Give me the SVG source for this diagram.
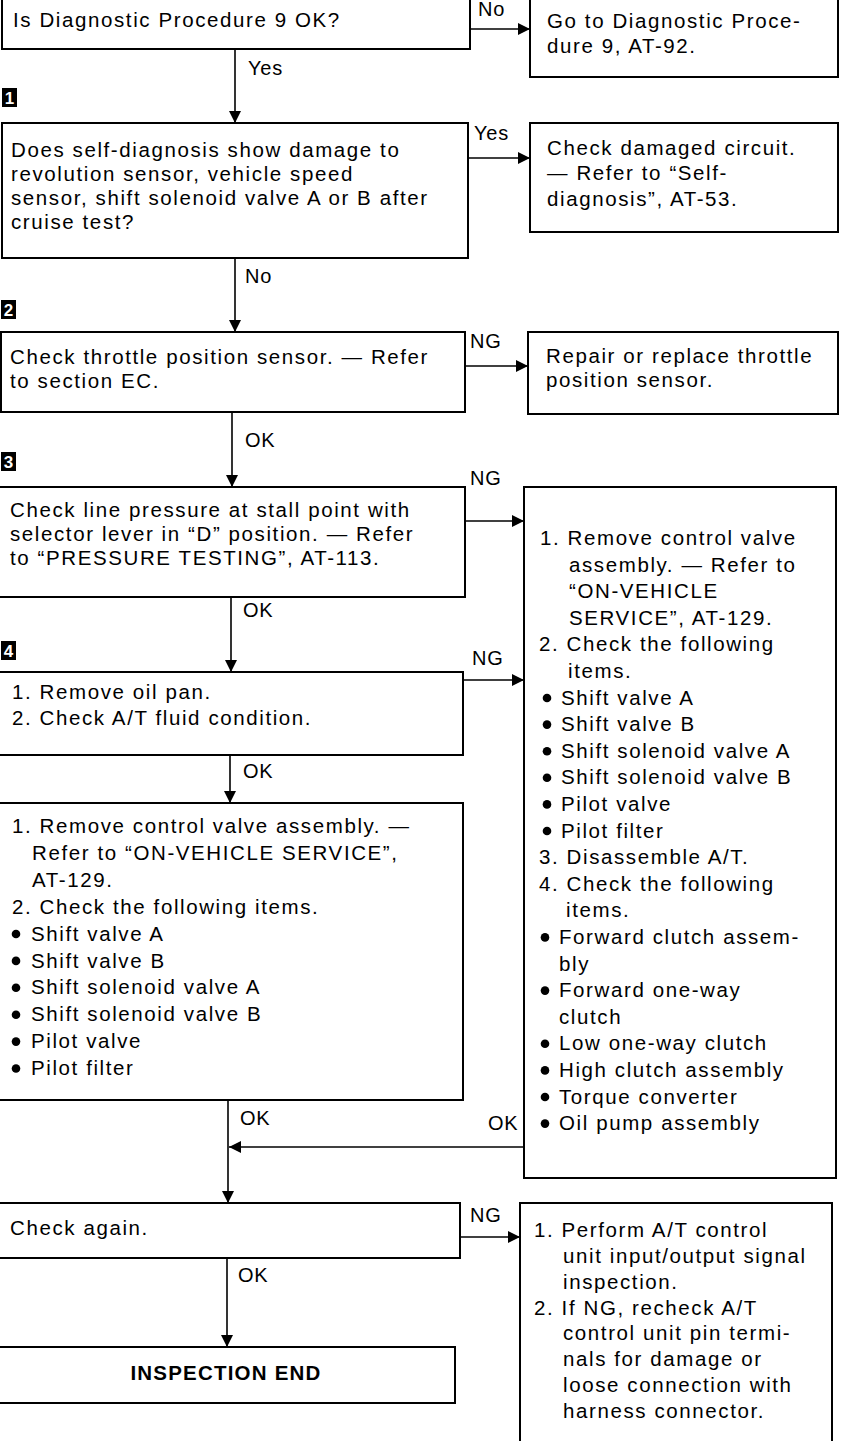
<svg xmlns="http://www.w3.org/2000/svg" width="841" height="1441" viewBox="0 0 841 1441">
<style>
.bg{fill:#fff}
.box{fill:none;stroke:#000;stroke-width:2}
.c{fill:none;stroke:#000;stroke-width:1.6}
.t{font-family:"Liberation Sans",Arial,sans-serif;font-size:20.5px;letter-spacing:1.6px;fill:#000}
.l{font-family:"Liberation Sans",Arial,sans-serif;font-size:20px;letter-spacing:0.8px;fill:#000}
.b{font-weight:bold;letter-spacing:1.2px}
.mk{fill:#000}
.mt{font-family:"Liberation Sans",Arial,sans-serif;font-size:17px;font-weight:bold;fill:#fff}
.dot{fill:#000}
</style>
<defs>
<marker id="ah" markerUnits="userSpaceOnUse" markerWidth="13" markerHeight="12" refX="12" refY="6" orient="auto">
<path d="M0,0 L12,6 L0,12 z" fill="#000"/>
</marker>
</defs>
<rect class="bg" x="0" y="0" width="841" height="1441"/>

<g id="n-q9">
<rect class="box" x="2" y="-10" width="468" height="59"/>
<text class="t" x="13" y="27">Is Diagnostic Procedure 9 OK?</text>
</g>
<g id="n-goto9">
<rect class="box" x="530" y="-10" width="308" height="87"/>
<text class="t"><tspan x="547" y="28">Go to Diagnostic Proce-</tspan><tspan x="547" y="53">dure 9, AT-92.</tspan></text>
</g>

<g id="m1"><rect class="mk" x="2" y="88" width="15" height="19"/><text class="mt" x="9.5" y="104" text-anchor="middle">1</text></g>

<g id="n-selfdiag">
<rect class="box" x="2" y="123" width="466" height="135"/>
<text class="t"><tspan x="11" y="157">Does self-diagnosis show damage to</tspan><tspan x="11" y="181">revolution sensor, vehicle speed</tspan><tspan x="11" y="205">sensor, shift solenoid valve A or B after</tspan><tspan x="11" y="229">cruise test?</tspan></text>
</g>
<g id="n-damaged">
<rect class="box" x="530" y="123" width="308" height="109"/>
<text class="t"><tspan x="547" y="155">Check damaged circuit.</tspan><tspan x="547" y="180">— Refer to “Self-</tspan><tspan x="547" y="206">diagnosis”, AT-53.</tspan></text>
</g>

<g id="m2"><rect class="mk" x="1" y="300" width="15" height="19"/><text class="mt" x="8.5" y="316" text-anchor="middle">2</text></g>

<g id="n-throttle">
<rect class="box" x="1" y="332" width="464" height="80"/>
<text class="t"><tspan x="10" y="364">Check throttle position sensor. — Refer</tspan><tspan x="10" y="388">to section EC.</tspan></text>
</g>
<g id="n-repair">
<rect class="box" x="528" y="332" width="310" height="82"/>
<text class="t"><tspan x="546" y="363">Repair or replace throttle</tspan><tspan x="546" y="387">position sensor.</tspan></text>
</g>

<g id="m3"><rect class="mk" x="1" y="452" width="15" height="19"/><text class="mt" x="8.5" y="468" text-anchor="middle">3</text></g>

<g id="n-linepressure">
<rect class="box" x="-2" y="487" width="467" height="110"/>
<text class="t"><tspan x="10" y="517">Check line pressure at stall point with</tspan><tspan x="10" y="541">selector lever in “D” position. — Refer</tspan><tspan x="10" y="565">to “PRESSURE TESTING”, AT-113.</tspan></text>
</g>

<g id="n-disassemble">
<rect class="box" x="524" y="487" width="312" height="691"/>
<text class="t">
<tspan x="540" y="545">1. Remove control valve</tspan>
<tspan x="569" y="571.6">assembly. — Refer to</tspan>
<tspan x="569" y="598.2">“ON-VEHICLE</tspan>
<tspan x="569" y="624.8">SERVICE”, AT-129.</tspan>
<tspan x="539" y="651.4">2. Check the following</tspan>
<tspan x="568" y="678">items.</tspan>
<tspan x="561" y="704.6">Shift valve A</tspan>
<tspan x="561" y="731.2">Shift valve B</tspan>
<tspan x="561" y="757.8">Shift solenoid valve A</tspan>
<tspan x="561" y="784.4">Shift solenoid valve B</tspan>
<tspan x="561" y="811">Pilot valve</tspan>
<tspan x="561" y="837.6">Pilot filter</tspan>
<tspan x="539" y="864.2">3. Disassemble A/T.</tspan>
<tspan x="539" y="890.8">4. Check the following</tspan>
<tspan x="566" y="917.4">items.</tspan>
<tspan x="559" y="944">Forward clutch assem-</tspan>
<tspan x="559" y="970.6">bly</tspan>
<tspan x="559" y="997.2">Forward one-way</tspan>
<tspan x="559" y="1023.8">clutch</tspan>
<tspan x="559" y="1050.4">Low one-way clutch</tspan>
<tspan x="559" y="1077">High clutch assembly</tspan>
<tspan x="559" y="1103.6">Torque converter</tspan>
<tspan x="559" y="1130.2">Oil pump assembly</tspan>
</text>
<circle class="dot" cx="547" cy="698" r="4.3"/>
<circle class="dot" cx="547" cy="724.6" r="4.3"/>
<circle class="dot" cx="547" cy="751.2" r="4.3"/>
<circle class="dot" cx="547" cy="777.8" r="4.3"/>
<circle class="dot" cx="547" cy="804.4" r="4.3"/>
<circle class="dot" cx="547" cy="831" r="4.3"/>
<circle class="dot" cx="545" cy="937.4" r="4.3"/>
<circle class="dot" cx="545" cy="990.6" r="4.3"/>
<circle class="dot" cx="545" cy="1043.8" r="4.3"/>
<circle class="dot" cx="545" cy="1070.4" r="4.3"/>
<circle class="dot" cx="545" cy="1097" r="4.3"/>
<circle class="dot" cx="545" cy="1123.6" r="4.3"/>
</g>

<g id="m4"><rect class="mk" x="1" y="641" width="15" height="19"/><text class="mt" x="8.5" y="657" text-anchor="middle">4</text></g>

<g id="n-oilpan">
<rect class="box" x="-2" y="672" width="465" height="83"/>
<text class="t"><tspan x="12" y="699">1. Remove oil pan.</tspan><tspan x="12" y="725">2. Check A/T fluid condition.</tspan></text>
</g>

<g id="n-controlvalve">
<rect class="box" x="-2" y="803" width="465" height="297"/>
<text class="t">
<tspan x="12" y="833">1. Remove control valve assembly. —</tspan>
<tspan x="32" y="859.9">Refer to “ON-VEHICLE SERVICE”,</tspan>
<tspan x="32" y="886.8">AT-129.</tspan>
<tspan x="12" y="913.7">2. Check the following items.</tspan>
<tspan x="31" y="940.6">Shift valve A</tspan>
<tspan x="31" y="967.5">Shift valve B</tspan>
<tspan x="31" y="994.4">Shift solenoid valve A</tspan>
<tspan x="31" y="1021.3">Shift solenoid valve B</tspan>
<tspan x="31" y="1048.2">Pilot valve</tspan>
<tspan x="31" y="1075.1">Pilot filter</tspan>
</text>
<circle class="dot" cx="16" cy="934" r="4.3"/>
<circle class="dot" cx="16" cy="960.9" r="4.3"/>
<circle class="dot" cx="16" cy="987.8" r="4.3"/>
<circle class="dot" cx="16" cy="1014.7" r="4.3"/>
<circle class="dot" cx="16" cy="1041.6" r="4.3"/>
<circle class="dot" cx="16" cy="1068.5" r="4.3"/>
</g>

<g id="n-checkagain">
<rect class="box" x="-2" y="1203" width="462" height="55"/>
<text class="t" x="10" y="1235">Check again.</text>
</g>
<g id="n-perform">
<path class="box" d="M520,1445 V1203 H832 V1445"/>
<text class="t">
<tspan x="534" y="1237">1. Perform A/T control</tspan>
<tspan x="563" y="1263">unit input/output signal</tspan>
<tspan x="563" y="1289">inspection.</tspan>
<tspan x="534" y="1315">2. If NG, recheck A/T</tspan>
<tspan x="563" y="1340">control unit pin termi-</tspan>
<tspan x="563" y="1366">nals for damage or</tspan>
<tspan x="563" y="1392">loose connection with</tspan>
<tspan x="563" y="1418">harness connector.</tspan>
</text>
</g>

<g id="n-end">
<rect class="box" x="-2" y="1347" width="457" height="56"/>
<text class="t b" x="226" y="1380" text-anchor="middle">INSPECTION END</text>
</g>

<g id="connectors">
<path class="c" d="M470,29 H530" marker-end="url(#ah)"/>
<path class="c" d="M235,49 V123" marker-end="url(#ah)"/>
<path class="c" d="M468,158 H530" marker-end="url(#ah)"/>
<path class="c" d="M235,258 V332" marker-end="url(#ah)"/>
<path class="c" d="M465,366 H528" marker-end="url(#ah)"/>
<path class="c" d="M232,412 V487" marker-end="url(#ah)"/>
<path class="c" d="M465,521 H524" marker-end="url(#ah)"/>
<path class="c" d="M231,597 V672" marker-end="url(#ah)"/>
<path class="c" d="M463,680 H524" marker-end="url(#ah)"/>
<path class="c" d="M230,755 V803" marker-end="url(#ah)"/>
<path class="c" d="M228,1100 V1203" marker-end="url(#ah)"/>
<path class="c" d="M524,1147 H229" marker-end="url(#ah)"/>
<path class="c" d="M460,1237 H520" marker-end="url(#ah)"/>
<path class="c" d="M227,1258 V1347" marker-end="url(#ah)"/>
<text class="l" x="478" y="16">No</text>
<text class="l" x="248" y="75">Yes</text>
<text class="l" x="474" y="140">Yes</text>
<text class="l" x="245" y="283">No</text>
<text class="l" x="470" y="348">NG</text>
<text class="l" x="245" y="447">OK</text>
<text class="l" x="470" y="485">NG</text>
<text class="l" x="243" y="617">OK</text>
<text class="l" x="472" y="665">NG</text>
<text class="l" x="243" y="778">OK</text>
<text class="l" x="240" y="1125">OK</text>
<text class="l" x="488" y="1130">OK</text>
<text class="l" x="470" y="1222">NG</text>
<text class="l" x="238" y="1282">OK</text>
</g>
</svg>
